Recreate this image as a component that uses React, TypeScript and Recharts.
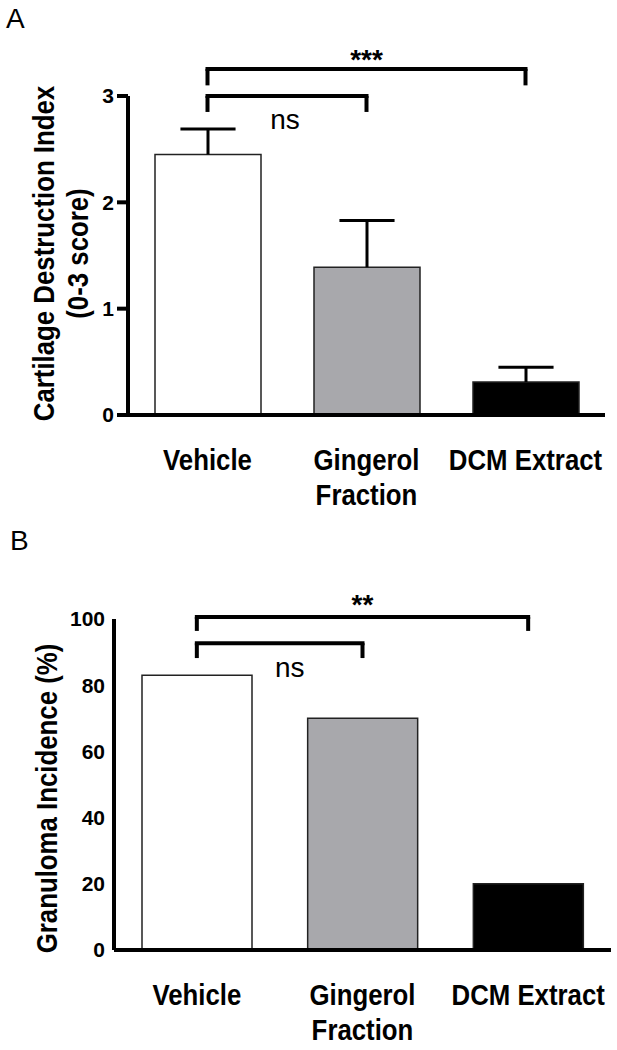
import React from "react";
import { BarChart, Bar, XAxis, YAxis, Cell, ReferenceLine, Label } from "recharts";

const FONT = '"Liberation Sans", Arial, Helvetica, sans-serif';

const categories = ["Vehicle", "Gingerol Fraction", "DCM Extract"];
const categoryLines = [["Vehicle"], ["Gingerol", "Fraction"], ["DCM Extract"]];
const barFills = ["#ffffff", "#a8a8ac", "#000000"];

// panel A
const cartilageMean = [2.45, 1.39, 0.31];
const cartilageSem = [0.24, 0.44, 0.14];
const cartilageTicks = [0, 1, 2, 3];
const cartilageBrackets = [
  { from: "Vehicle", to: "DCM Extract", y: 3.255, leg: 3.1, text: "***" },
  { from: "Vehicle", to: "Gingerol Fraction", y: 3.0, leg: 2.85, text: "ns" },
];

// panel B
const granulomaIncidence = [83, 70, 20];
const granulomaTicks = [0, 20, 40, 60, 80, 100];
const granulomaBrackets = [
  { from: "Vehicle", to: "DCM Extract", y: 100.6, leg: 96.4, text: "**" },
  { from: "Vehicle", to: "Gingerol Fraction", y: 92.7, leg: 88.2, text: "ns" },
];

const cartilageData = categories.map((name, i) => ({
  name,
  mean: cartilageMean[i],
  sem: cartilageSem[i],
}));
const granulomaData = categories.map((name, i) => ({
  name,
  value: granulomaIncidence[i],
}));

// the original lettering is a narrow bold sans, so squeeze it a bit
const SQUEEZE = 0.86;

function CategoryTick({ x, y, payload }: any) {
  const idx = categories.indexOf(payload.value);
  const lines = categoryLines[idx] ?? [payload.value];
  return (
    <g transform={`translate(${x},${y + 55}) scale(${SQUEEZE},1)`}>
      <text x={0} y={0} textAnchor="middle" fontSize={30} fontWeight="bold" fill="#000">
        {lines.map((l, i) => (
          <tspan key={i} x={0} dy={i === 0 ? 0 : 35}>
            {l}
          </tspan>
        ))}
      </text>
    </g>
  );
}

function ErrorCap(props: any) {
  const { x, y, width, height } = props;
  const cx = x + width / 2;
  const half = width * 0.26;
  return (
    <g stroke="#000" strokeWidth={3}>
      <line x1={cx} y1={y + height} x2={cx} y2={y} />
      <line x1={cx - half} y1={y} x2={cx + half} y2={y} />
    </g>
  );
}

function YTitle({ viewBox, lines, xs, shift }: any) {
  const vb = viewBox || { y: 0, height: 0 };
  const cy = vb.y + vb.height / 2 + shift;
  return (
    <g>
      {lines.map((l: string, i: number) => (
        <g key={i} transform={`translate(${xs[i]},${cy}) rotate(-90) scale(${SQUEEZE},1)`}>
          <text x={0} y={0} textAnchor="middle" fontSize={30} fontWeight="bold" fill="#000">
            {l}
          </text>
        </g>
      ))}
    </g>
  );
}

function bracketLines(
  brackets: typeof cartilageBrackets,
  starOffset: number,
  nsOffset: number,
  nsDx: number
) {
  return brackets.flatMap((b, i) => {
    const isNs = b.text === "ns";
    return [
      <ReferenceLine
        key={`h${i}`}
        segment={[
          { x: b.from, y: b.y },
          { x: b.to, y: b.y },
        ]}
        ifOverflow="visible"
        stroke="#000"
        strokeWidth={4}
        strokeLinecap="square"
      >
        <Label
          value={b.text}
          position={isNs ? "bottom" : "top"}
          offset={isNs ? nsOffset : starOffset}
          dx={isNs ? nsDx : 0}
          fontSize={28}
          fontWeight={isNs ? "normal" : "bold"}
          fill="#000"
        />
      </ReferenceLine>,
      <ReferenceLine
        key={`l${i}`}
        segment={[
          { x: b.from, y: b.y },
          { x: b.from, y: b.leg },
        ]}
        ifOverflow="visible"
        stroke="#000"
        strokeWidth={4}
      />,
      <ReferenceLine
        key={`r${i}`}
        segment={[
          { x: b.to, y: b.y },
          { x: b.to, y: b.leg },
        ]}
        ifOverflow="visible"
        stroke="#000"
        strokeWidth={4}
      />,
    ];
  });
}

export default function App() {
  return (
    <div
      style={{
        position: "absolute",
        left: 0,
        top: 0,
        width: 617,
        height: 1050,
        background: "#fff",
        fontFamily: FONT,
      }}
    >
      <svg width={617} height={1050} style={{ position: "absolute", left: 0, top: 0 }}>
        <text x={6} y={28} fontSize={28} fill="#000">
          A
        </text>
        <text x={10} y={550} fontSize={28} fill="#000">
          B
        </text>
      </svg>

      <div style={{ position: "absolute", left: 0, top: 0 }}>
        <BarChart
          width={617}
          height={530}
          data={cartilageData}
          margin={{ top: 96, right: 12, left: 0, bottom: 25 }}
        >
          <XAxis
            dataKey="name"
            height={90}
            tick={<CategoryTick />}
            tickLine={false}
            tickSize={0}
            tickMargin={0}
            interval={0}
            axisLine={{ stroke: "#000", strokeWidth: 4 }}
          />
          <YAxis
            width={128}
            domain={[0, 3]}
            ticks={cartilageTicks}
            tick={{ fontSize: 21, fontWeight: "bold", fill: "#000" }}
            tickSize={11}
            tickMargin={3}
            tickLine={{ stroke: "#000", strokeWidth: 4 }}
            axisLine={{ stroke: "#000", strokeWidth: 4 }}
          >
            <Label
              content={(p: any) => (
                <YTitle
                  {...p}
                  lines={["Cartilage Destruction Index", "(0-3 score)"]}
                  xs={[54, 88]}
                  shift={-2}
                />
              )}
            />
          </YAxis>
          <Bar dataKey="mean" stackId="s" barSize={106} stroke="#222" strokeWidth={1.5} isAnimationActive={false}>
            {cartilageData.map((_, i) => (
              <Cell key={i} fill={barFills[i]} />
            ))}
          </Bar>
          <Bar dataKey="sem" stackId="s" barSize={106} shape={<ErrorCap />} isAnimationActive={false} />
          {bracketLines(cartilageBrackets, 0, 13, -2)}
        </BarChart>
      </div>

      <div style={{ position: "absolute", left: 0, top: 530 }}>
        <BarChart
          width={617}
          height={520}
          data={granulomaData}
          margin={{ top: 89, right: 6, left: 0, bottom: 10 }}
        >
          <XAxis
            dataKey="name"
            height={90}
            tick={<CategoryTick />}
            tickLine={false}
            tickSize={0}
            tickMargin={0}
            interval={0}
            axisLine={{ stroke: "#000", strokeWidth: 4 }}
          />
          <YAxis
            width={114}
            domain={[0, 100]}
            ticks={granulomaTicks}
            tick={{ fontSize: 21, fontWeight: "bold", fill: "#000" }}
            tickSize={7}
            tickMargin={2}
            tickLine={false}
            axisLine={{ stroke: "#000", strokeWidth: 4 }}
          >
            <Label
              content={(p: any) => (
                <YTitle {...p} lines={["Granuloma Incidence (%)"]} xs={[57]} shift={14} />
              )}
            />
          </YAxis>
          <Bar dataKey="value" barSize={110} stroke="#222" strokeWidth={1.5} isAnimationActive={false}>
            {granulomaData.map((_, i) => (
              <Cell key={i} fill={barFills[i]} />
            ))}
          </Bar>
          {bracketLines(granulomaBrackets, 3, 14, 10)}
        </BarChart>
      </div>
    </div>
  );
}
